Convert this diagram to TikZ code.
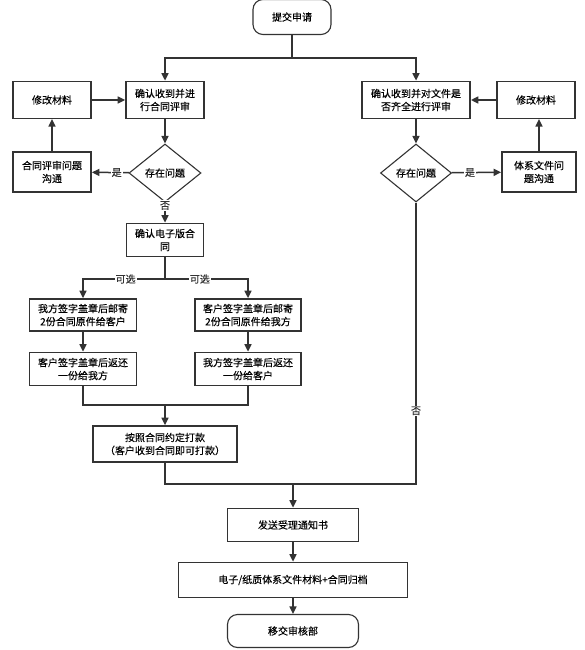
\documentclass[tikz,border=0pt]{standalone}
\usepackage{fontspec}
\setmainfont{Noto Sans CJK SC}[RawFeature={embolden=0.25}]
\usetikzlibrary{shapes.geometric,arrows.meta}
\colorlet{linecol}{black!80}

\begin{document}
\begin{tikzpicture}[x=1pt,y=-1pt,
    box/.style={draw=linecol,line width=1.8pt,align=center,inner sep=1pt,
      font=\fontsize{10}{13}\selectfont},
    thinbox/.style={box,line width=1.1pt},
    term/.style={box,line width=1.1pt,rounded corners=10pt},
    dec/.style={box,line width=1.1pt,diamond,inner sep=0pt},
    conn/.style={-{Triangle[length=7.5pt,width=7pt]},linecol,line width=1.5pt},
    link/.style={linecol,line width=1.5pt},
    lab/.style={fill=white,inner sep=1pt,font=\fontsize{10}{11}\selectfont}]
  \useasboundingbox (0,0) rectangle (585,650);

  \node[term,minimum width=78,minimum height=35] (start) at (292,17) {提交申请};

  \node[box,minimum width=78,minimum height=37] (review) at (165,100) {确认收到并进\\行合同评审};
  \node[thinbox,minimum width=78,minimum height=37] (modL) at (52,100) {修改材料};
  \node[dec,minimum width=72,minimum height=58] (decL) at (165,173) {存在问题};
  \node[box,minimum width=78,minimum height=40] (talkL) at (52,172) {合同评审问题\\沟通};

  \node[box,minimum width=108,minimum height=37] (check) at (416,100) {确认收到并对文件是\\否齐全进行评审};
  \node[thinbox,minimum width=78,minimum height=37] (modR) at (536,100) {修改材料};
  \node[dec,minimum width=71,minimum height=58] (decR) at (416,173) {存在问题};
  \node[box,minimum width=74,minimum height=40] (talkR) at (539,172) {体系文件问\\题沟通};

  \node[box,minimum width=77,minimum height=33] (econ) at (165,240) {确认电子版合\\同};
  \node[box,minimum width=107,minimum height=32] (ours1) at (83,315) {我方签字盖章后邮寄\\2份合同原件给客户};
  \node[box,minimum width=106,minimum height=32] (cust1) at (248,315) {客户签字盖章后邮寄\\2份合同原件给我方};
  \node[box,minimum width=107,minimum height=33] (cust2) at (83,369) {客户签字盖章后返还\\一份给我方};
  \node[box,minimum width=106,minimum height=33] (ours2) at (248,369) {我方签字盖章后返还\\一份给客户};
  \node[box,minimum width=144,minimum height=36] (pay) at (165,444) {按照合同约定打款\\（客户收到合同即可打款）};

  \node[box,minimum width=131,minimum height=33] (notice) at (293,525) {发送受理通知书};
  \node[box,minimum width=229,minimum height=35] (archive) at (293,580) {电子/纸质体系文件材料+合同归档};
  \node[term,minimum width=131,minimum height=33] (finish) at (293,631) {移交审核部};

  \coordinate (topsplit) at (292,58);
  \coordinate (optsplit) at (165,279);
  \coordinate (paymerge) at (165,405);
  \coordinate (nomerge) at (293,484);

  \draw[link] (start) -- (topsplit);
  \draw[conn] (topsplit) -| (review);
  \draw[conn] (topsplit) -| (check);

  \draw[conn] (modL) -- (review);
  \draw[conn] (review) -- (decL);
  \draw[conn] (decL) -- node[lab,pos=0.33] {是} (talkL);
  \draw[conn] (talkL) -- (modL);
  \draw[conn] (decL) -- node[lab,pos=0.15] {否} (econ);

  \draw[link] (econ) -- (optsplit);
  \draw[conn] (optsplit) -| node[lab,pos=0.24] {可选} (ours1.north);
  \draw[conn] (optsplit) -| node[lab,pos=0.21] {可选} (cust1.north);
  \draw[conn] (ours1) -- (cust2);
  \draw[conn] (cust1) -- (ours2);
  \draw[link] (cust2.south) |- (paymerge);
  \draw[link] (ours2.south) |- (paymerge);
  \draw[conn] (paymerge) -- (pay);

  \draw[conn] (check) -- (decR);
  \draw[conn] (decR) -- node[lab,pos=0.37] {是} (talkR);
  \draw[conn] (talkR.north) -- (talkR.north |- modR.south);
  \draw[conn] (modR) -- (check);

  \draw[link] (pay.south) |- (nomerge);
  \draw[link] (decR.south) |- node[lab,pos=0.37] {否} (nomerge);
  \draw[conn] (nomerge) -- (notice);
  \draw[conn] (notice) -- (archive);
  \draw[conn] (archive) -- (finish);
\end{tikzpicture}
\end{document}
